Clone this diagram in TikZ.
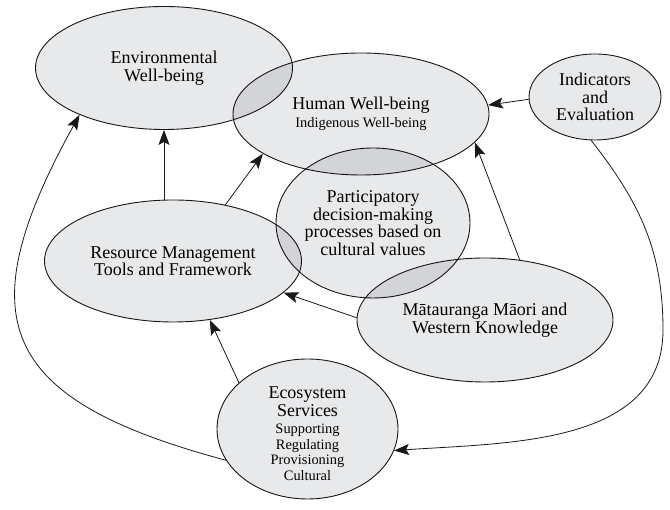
\documentclass[tikz,border=0pt]{standalone}
\usepackage{fontspec}
\setmainfont{Liberation Serif}
\usetikzlibrary{arrows.meta,shapes.geometric}
\newcommand{\bigtxt}{\fontsize{18}{17.5}\selectfont}
\newcommand{\smalltxt}{\fontsize{14.4}{15.5}\selectfont}
\definecolor{blobfill}{RGB}{232,233,235}

\begin{document}
\begin{tikzpicture}[x=1pt, y=1pt, >={Stealth[length=15pt,width=11pt,inset=3pt]},
  blob/.style={ellipse, draw=black!90, line width=0.9pt, fill=blobfill, inner sep=0pt, align=center, font=\bigtxt},
  link/.style={->, line width=0.8pt, black!90}]
  \useasboundingbox (0,0) rectangle (670,510);
  \begin{scope}[blend mode=multiply]
    \node[blob, minimum width=257pt, minimum height=123pt] (env) at (164,442) {Environmental\\Well-being};
    \node[blob, minimum width=256pt, minimum height=122pt] (human) at (361,396) {Human Well-being\\{\smalltxt Indigenous Well-being}};
    \node[blob, minimum width=132pt, minimum height=86pt] (ind) at (595,413) {Indicators\\and\\Evaluation};
    \node[blob, minimum width=194pt, minimum height=150pt] (part) at (373,287) {Participatory\\decision-making\\processes based on\\cultural values};
    \node[blob, minimum width=257pt, minimum height=122pt] (res) at (173,249) {Resource Management\\Tools and Framework};
    \node[blob, minimum width=256pt, minimum height=124pt] (mat) at (485,190) {Mātauranga Māori and\\Western Knowledge};
    \node[blob, minimum width=181pt, minimum height=138pt] (eco) at (307.5,81) {\raisebox{-7pt}[\height][\depth]{\begin{tabular}{@{}c@{}}Ecosystem\\Services\\{\smalltxt Supporting}\\[-2pt]{\smalltxt Regulating}\\[-2pt]{\smalltxt Provisioning}\\[-2pt]{\smalltxt Cultural}\end{tabular}}};
  \end{scope}
  \coordinate (bend) at (663,180);

  \draw[link] (env.south |- res.north) -- (env.south);
  \draw[link] (res.47) -- (human.202);
  \draw[link] (ind.182) -- (human.4);
  \draw[link] (mat.60) -- (human.-14);
  \draw[link] (mat.179) -- (res.-16);
  \draw[link] (eco.146) -- (res.-58);
  \draw[link] (eco.201) to[out=165, in=241, looseness=1.6] (env.209);
  \draw[link] (ind.265) to[out=-52, in=90] (bend) to[out=-90, in=4] (eco.-14);
\end{tikzpicture}
\end{document}
